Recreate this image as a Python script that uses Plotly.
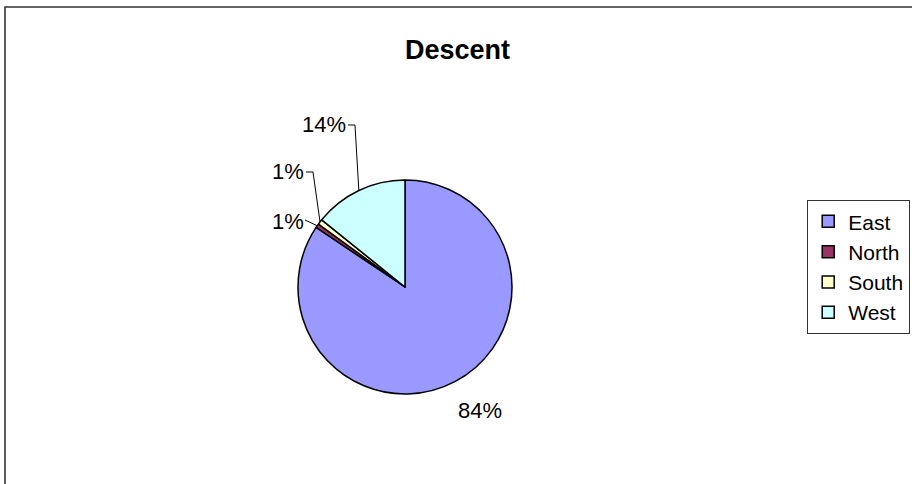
import math
import plotly.graph_objects as go

# ---- data ----
categories = ["East", "North", "South", "West"]
values = [84.4, 0.6, 0.8, 14.2]
colors = ["#9999FF", "#993366", "#FFFFCC", "#CCFFFF"]
title_text = "Descent"

# ---- layout geometry (pixels) ----
W, H = 912, 484
CX, CY, R = 405, 287, 107
FONT = "Liberation Sans, Arial, sans-serif"

def px(x):
    return x / W

def py(y):
    return 1 - y / H

fig = go.Figure(go.Pie(
    labels=categories,
    values=values,
    sort=False,
    direction="clockwise",
    rotation=0,
    marker=dict(colors=colors, line=dict(color="black", width=1.5)),
    textinfo="none",
    hoverinfo="label+percent",
    domain=dict(x=[px(CX - R), px(CX + R)], y=[py(CY + R), py(CY - R)]),
))

# slice mid-angles (clockwise from 12 o'clock) computed from the data
total = sum(values)
cum = 0
mids = []
for v in values:
    mids.append((cum + v / 2) / total * 2 * math.pi)
    cum += v
edge = [(CX + R * math.sin(a), CY - R * math.cos(a)) for a in mids]
pcts = [f"{round(v / total * 100)}%" for v in values]

# label placement (pixel centres) and leader elbows
label_pos = [(480, 410), (288, 221), (288, 171), (324, 124)]
elbows = [None, [(305, 220)], [(306, 172), (313, 172)], [(348, 125), (355, 125)]]

annotations = []
shapes = []
for i, (txt, (lx, ly)) in enumerate(zip(pcts, label_pos)):
    annotations.append(dict(
        x=px(lx), y=py(ly), xref="paper", yref="paper",
        text=txt, showarrow=False, xanchor="center", yanchor="middle",
        font=dict(family=FONT, size=22, color="black"),
    ))
    if elbows[i]:
        pts = elbows[i] + [edge[i]]
        path = "M " + " L ".join(f"{px(x):.5f},{py(y):.5f}" for x, y in pts)
        shapes.append(dict(type="path", path=path, xref="paper", yref="paper",
                           line=dict(color="black", width=1)))

# outer chart border
shapes.append(dict(type="rect", xref="paper", yref="paper",
                   x0=px(5), x1=1.05, y0=-0.05, y1=py(7),
                   line=dict(color="#333333", width=1.6)))

annotations.append(dict(
    x=px(457), y=py(50), xref="paper", yref="paper", text="<b>" + title_text + "</b>",
    showarrow=False, xanchor="center", yanchor="middle",
    font=dict(family=FONT, size=27, color="black"),
))

fig.update_layout(
    width=W, height=H,
    margin=dict(l=0, r=0, t=0, b=0),
    paper_bgcolor="white",
    plot_bgcolor="white",
    showlegend=True,
    legend=dict(
        x=px(910), y=py(200), xanchor="right", yanchor="top",
        bordercolor="#333333", borderwidth=1.2, bgcolor="white",
        font=dict(family=FONT, size=21, color="black"),
        itemwidth=30, tracegroupgap=0,
    ),
    annotations=annotations,
    shapes=shapes,
)

fig.write_html("out.html")
